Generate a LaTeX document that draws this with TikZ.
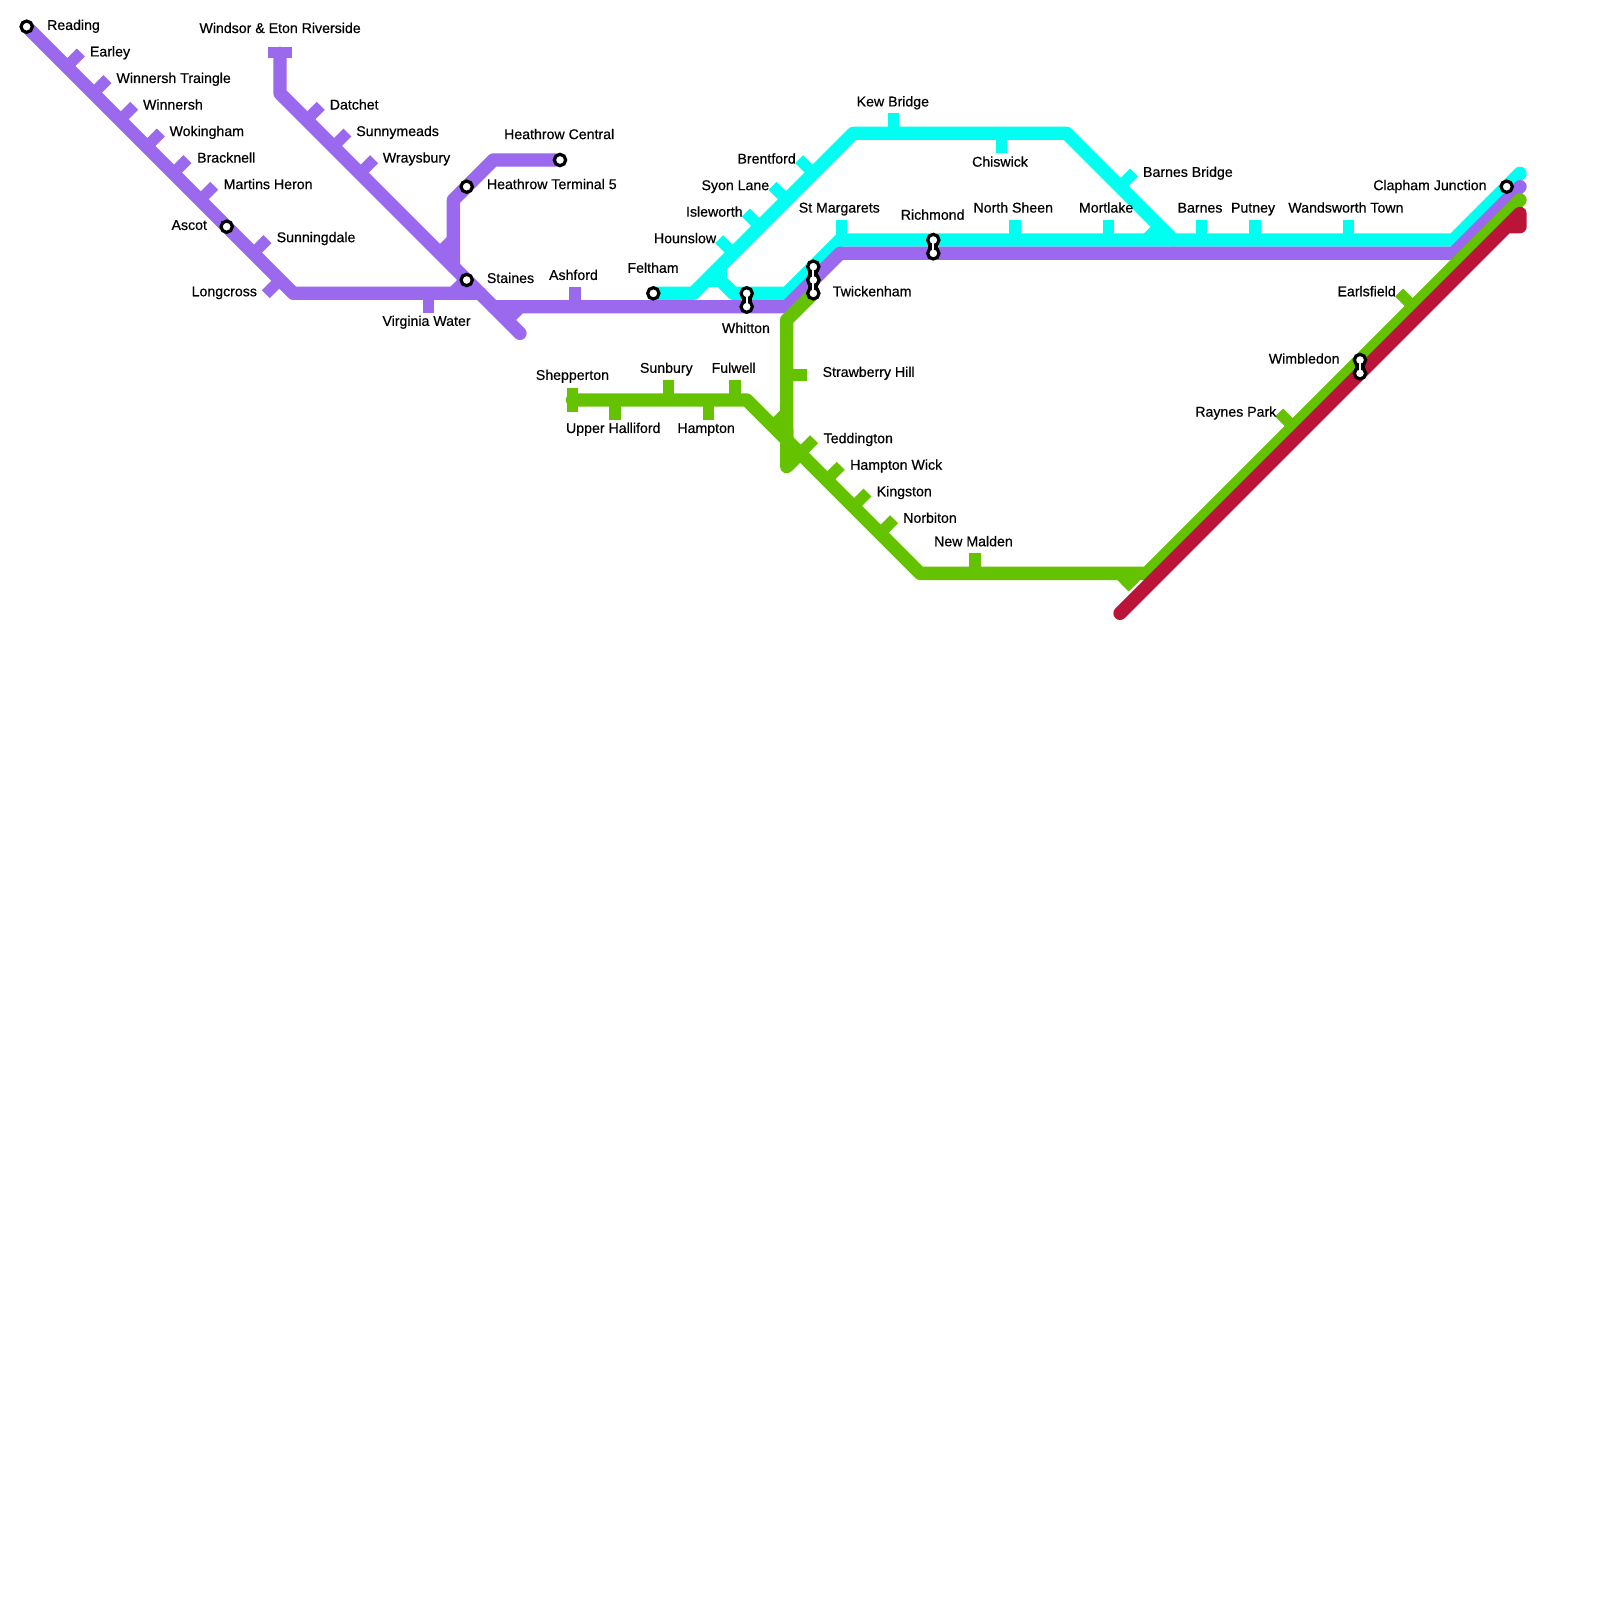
\documentclass[tikz,border=0pt]{standalone}
\usepackage{fontspec}
\newfontfamily\lblfont[FakeBold=0.5]{Liberation Sans}
\definecolor{cpurple}{HTML}{9A69ED}
\definecolor{ccyan}{HTML}{00FFF0}
\definecolor{cgreen}{HTML}{64C200}
\definecolor{ccrim}{HTML}{BB1439}
\tikzset{
  trackline/.style={line width=13.33pt,line cap=round,line join=round},
  stubline/.style={line width=13.33pt,line cap=butt,line join=miter},
  tickline/.style={line width=11.3pt,line cap=butt},
  stn/.style={circle,draw=black,fill=white,line width=3.2pt,minimum size=11.3pt,inner sep=0pt,outer sep=0pt},
  neckout/.style={draw=black,line width=10pt},
  neckin/.style={draw=white,line width=2.2pt},
  lab/.style={font=\lblfont\fontsize{14.15pt}{16pt}\selectfont,inner sep=0pt,text height=10pt,text depth=3pt,text=black}
}
\newcommand\tk[5]{\draw[tickline,#1] (#2,#3) -- ++(#4,#5);}
\newcommand\lb[5][]{\node[lab,anchor=#2] (#1) at ({#3*1.0204},{(#4+0.9)*1.0204}) {#5};}
\begin{document}
\begin{tikzpicture}[x=1pt,y=-1pt]
\useasboundingbox (0,0) rectangle (1600,1600);
% key points
\coordinate (pReading) at (26.67,26.67);
\coordinate (pLong) at (293.33,293.33);
\coordinate (pHz) at (480,293.33);
\coordinate (pWin) at (280,53.33);
\coordinate (pWinB) at (280,93.33);
\coordinate (pEnd) at (520,333.33);
\coordinate (pHC) at (560,160);
\coordinate (pHb) at (493.33,160);
\coordinate (pHv) at (453.33,200);
\coordinate (pHj) at (453.33,266.67);
\coordinate (pA) at (493.33,306.67);
\coordinate (pB) at (786.67,306.67);
\coordinate (pC) at (840,253.33);
\coordinate (pD) at (1453.33,253.33);
\coordinate (pE) at (1520,186.67);
\coordinate (cA) at (1520,173.33);
\coordinate (cB) at (1453.33,240);
\coordinate (cC) at (840,240);
\coordinate (cD) at (786.67,293.33);
\coordinate (cF) at (733.33,293.33);
\coordinate (cG) at (713.33,273.33);
\coordinate (cFel) at (653.33,293.33);
\coordinate (cH) at (693.33,293.33);
\coordinate (cI) at (853.33,133.33);
\coordinate (cJ) at (1066.67,133.33);
\coordinate (cK) at (1173.33,240);
\coordinate (gS) at (572.5,400);
\coordinate (gB) at (746.67,400);
\coordinate (gC) at (920,573.33);
\coordinate (gD) at (1146.67,573.33);
\coordinate (gE) at (1520,200);
\coordinate (gT) at (813.33,293.33);
\coordinate (gU) at (786.67,320);
\coordinate (gV) at (786.67,466.67);
\coordinate (rA) at (1120,613.33);
\coordinate (rB) at (1520,213.33);
\coordinate (rC) at (1520,226.67);
\coordinate (rD) at (1506.67,226.67);
% cyan
\draw[ccyan,trackline] (cA) -- (cB) -- (cC) -- (cD) -- (cF) -- (cG);
\draw[ccyan,trackline] (cFel) -- (cH) -- (cI) -- (cJ) -- (cK);
\draw[ccyan,stubline] (720,266.67) -- (720,280) -- (706.67,280);
\draw[ccyan,stubline] (1160,226.67) -- (1146.67,240);
\tk{ccyan}{893.33}{133.33}{0}{-20}
\tk{ccyan}{1001.67}{133.33}{0}{20}
\tk{ccyan}{841.67}{240}{0}{-20}
\tk{ccyan}{1015}{240}{0}{-20}
\tk{ccyan}{1108.33}{240}{0}{-20}
\tk{ccyan}{1201.67}{240}{0}{-20}
\tk{ccyan}{1255}{240}{0}{-20}
\tk{ccyan}{1348.33}{240}{0}{-20}
\foreach \q in {813.33,786.67,760,733.33}{\tk{ccyan}{\q}{986.67-\q}{-14.14}{-14.14}}
\tk{ccyan}{1120}{186.67}{14.14}{-14.14}
% purple
\draw[cpurple,trackline] (pReading) -- (pLong) -- (pHz);
\draw[cpurple,trackline] (pWin) -- (pWinB) -- (pEnd);
\draw[cpurple,trackline] (pHC) -- (pHb) -- (pHv) -- (pHj);
\draw[cpurple,trackline] (pA) -- (pB) -- (pC) -- (pD) -- (pE);
\draw[cpurple,stubline] (453.33,240) -- (440,253.33);
\draw[cpurple,stubline] (466.67,280) -- (453.33,293.33);
\draw[cpurple,stubline] (520,306.67) -- (506.67,320);
\tk{cpurple}{268}{52.8}{24}{0}
\tk{cpurple}{428.33}{293.33}{0}{20}
\tk{cpurple}{575}{306.67}{0}{-20}
\foreach \q in {66.67,93.33,120,146.67,173.33,200,253.33}{\tk{cpurple}{\q}{\q}{14.14}{-14.14}}
\tk{cpurple}{280}{280}{-14.14}{14.14}
\foreach \q in {306.67,333.33,360}{\tk{cpurple}{\q}{\q-186.67}{14.14}{-14.14}}
% green
\draw[cgreen,trackline] (gS) -- (gB) -- (gC) -- (gD) -- (gE);
\draw[cgreen,trackline,line cap=butt] (gT) -- (gU) -- (786.67,440);
\draw[cgreen,trackline] (786.67,430) -- (gV) -- (800,453.33);
\draw[cgreen,stubline] (786.67,413.33) -- (773.33,426.67);
\draw[cgreen,stubline] (1120,573.33) -- (1133.33,586.67);
\fill[cgreen] (1120,573.33) -- (1146.67,573.33) -- (1133.33,586.67) -- cycle;
\tk{cgreen}{572.5}{388}{0}{24}
\tk{cgreen}{668.33}{400}{0}{-20}
\tk{cgreen}{735}{400}{0}{-20}
\tk{cgreen}{615}{400}{0}{20}
\tk{cgreen}{708.33}{400}{0}{20}
\tk{cgreen}{975}{573.33}{0}{-20}
\tk{cgreen}{786.67}{375}{20}{0}
\foreach \q in {800,826.67,853.33,880}{\tk{cgreen}{\q}{\q-346.67}{14.14}{-14.14}}
\tk{cgreen}{1413.33}{306.67}{-14.14}{-14.14}
\tk{cgreen}{1293.33}{426.67}{-14.14}{-14.14}
% crimson
\draw[ccrim,trackline] (rA) -- (rB) -- (rC) -- (rD);
% stations
\foreach \n/\x/\y in {sReading/26.67/26.67,sAscot/226.67/226.67,sStaines/466.67/280,sT5/466.67/186.67,sCentral/560/160,sFeltham/653.33/293.33,sClapham/1506.67/186.67}{\node[stn] (\n) at (\x,\y) {};}
\foreach \n/\m/\x/\y/\z in {sWhitA/sWhitB/746.67/293.33/306.67,sRichA/sRichB/933.33/240/253.33,sTwA/sTwB/813.33/266.67/280,sWimA/sWimB/1360/360/373.33}{
  \draw[neckout] (\x,\y) -- (\x,\z);
  \node[stn] (\n) at (\x,\y) {};
  \node[stn] (\m) at (\x,\z) {};
}
\draw[neckout] (813.33,280) -- (813.33,293.33);
\node[stn] (sTwC) at (813.33,293.33) {};
\node[stn] at (813.33,280) {};
\draw[neckin] (sTwB.center) -- (sTwC.center);
\draw[neckin] (sWhitA.center) -- (sWhitB.center);
\draw[neckin] (sRichA.center) -- (sRichB.center);
\draw[neckin] (sTwA.center) -- (sTwB.center);
\draw[neckin] (sWimA.center) -- (sWimB.center);
% labels
\lb[l1]{west}{46}{25}{Reading}
\lb[l2]{west}{88}{51}{Earley}
\lb[l3]{west}{114}{77}{Winnersh Traingle}
\lb[l4]{west}{140}{103}{Winnersh}
\lb[l5]{west}{166}{129}{Wokingham}
\lb[l6]{west}{193}{155}{Bracknell}
\lb[l7]{west}{219}{181}{Martins Heron}
\lb[l8]{east}{203}{221}{Ascot}
\lb[l9]{west}{271}{233}{Sunningdale}
\lb[l10]{east}{252}{286}{Longcross}
\lb[l11]{center}{274.5}{28}{Windsor \& Eton Riverside}
\lb[l12]{west}{323}{103}{Datchet}
\lb[l13]{west}{349}{129}{Sunnymeads}
\lb[l14]{west}{375}{155}{Wraysbury}
\lb[l15]{center}{548}{132}{Heathrow Central}
\lb[l16]{west}{477}{181}{Heathrow Terminal 5}
\lb[l17]{west}{477}{273}{Staines}
\lb[l18]{center}{562}{270}{Ashford}
\lb[l19]{center}{418}{315}{Virginia Water}
\lb[l20]{center}{640}{263}{Feltham}
\lb[l21]{center}{731}{322}{Whitton}
\lb[l22]{west}{816}{286}{Twickenham}
\lb[l23]{west}{806}{365}{Strawberry Hill}
\lb[l24]{center}{561}{368}{Shepperton}
\lb[l25]{center}{653}{361}{Sunbury}
\lb[l26]{center}{719}{361}{Fulwell}
\lb[l27]{center}{601}{420}{Upper Halliford}
\lb[l28]{center}{692}{420}{Hampton}
\lb[l29]{west}{807}{430}{Teddington}
\lb[l30]{west}{833}{456}{Hampton Wick}
\lb[l31]{west}{859}{482}{Kingston}
\lb[l32]{west}{885}{508}{Norbiton}
\lb[l33]{center}{954}{531}{New Malden}
\lb[l34]{east}{780}{156}{Brentford}
\lb[l35]{east}{754}{182}{Syon Lane}
\lb[l36]{east}{728}{208}{Isleworth}
\lb[l37]{east}{702}{234}{Hounslow}
\lb[l38]{center}{822.5}{204}{St Margarets}
\lb[l39]{center}{914}{211}{Richmond}
\lb[l40]{center}{993}{204}{North Sheen}
\lb[l41]{center}{1084}{204}{Mortlake}
\lb[l42]{center}{875}{100}{Kew Bridge}
\lb[l43]{center}{980}{159}{Chiswick}
\lb[l44]{west}{1120}{169}{Barnes Bridge}
\lb[l45]{center}{1176}{204}{Barnes}
\lb[l46]{center}{1228}{204}{Putney}
\lb[l47]{center}{1319}{204}{Wandsworth Town}
\lb[l48]{east}{1457}{182}{Clapham Junction}
\lb[l49]{east}{1368}{286}{Earlsfield}
\lb[l50]{east}{1313}{352}{Wimbledon}
\lb[l51]{east}{1251}{404}{Raynes Park}
\end{tikzpicture}
\end{document}
